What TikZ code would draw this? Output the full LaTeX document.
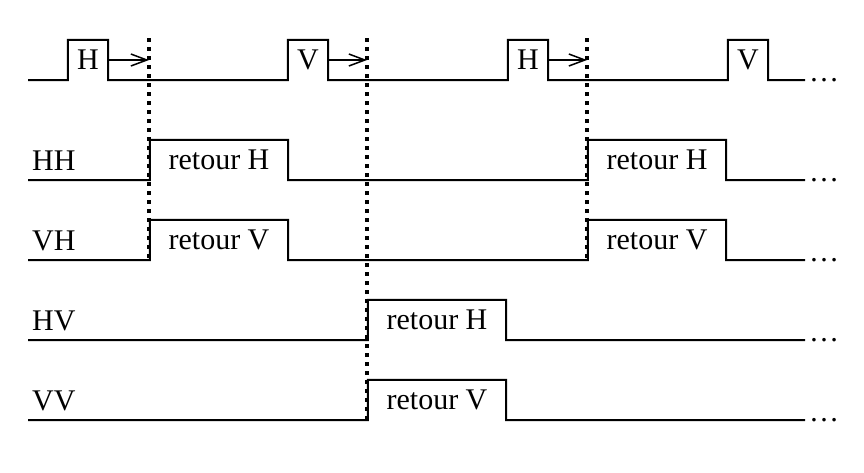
\documentclass[tikz,border=0pt]{standalone}
\usepackage{fontspec}
\setmainfont{Liberation Serif}
\usetikzlibrary{arrows.meta}

\begin{document}
\begin{tikzpicture}[
            x=1pt, y=-1pt,
            >={Straight Barb[length=16pt,width=12pt]},
            every node/.style={font=\fontsize{30}{33}\selectfont, inner sep=0pt},
            pulse/.style={minimum width=40pt, minimum height=40pt},
            retour/.style={minimum width=138pt, minimum height=40pt},
            label/.style={anchor=west},
            etc/.style={anchor=west},
            signal/.style={draw, line width=2pt},
            sync/.style={draw, line width=3.5pt, dash pattern=on 4pt off 5pt}
        ]
        \useasboundingbox (0,0) rectangle (864,472);

        % Start of the lines
        \coordinate (start) at (28,0);

        % Sync lines
        \coordinate (s1top) at (149,38);
        \coordinate (s1bot) at (149,260);
        \coordinate (s2top) at (367,38);
        \coordinate (s2bot) at (367,420);
        \coordinate (s3top) at (587,38);
        \coordinate (s3bot) at (587,260);

        % Nodes
        \node[pulse] (h1) at (88,60) {H};
        \node[pulse] (v1) at (308,60) {V};
        \node[pulse] (h2) at (528,60) {H};
        \node[pulse] (v2) at (748,60) {V};

        \node[label] (hh) at (32,161) {HH};
        \node[label] (vh) at (32,241) {VH};
        \node[label] (hv) at (32,321) {HV};
        \node[label] (vv) at (32,401) {VV};

        \node[retour] (hh1) at (219,160) {retour H};
        \node[retour] (hh2) at (657,160) {retour H};
        \node[retour] (vh1) at (219,240) {retour V};
        \node[retour] (vh2) at (657,240) {retour V};
        \node[retour] (hv1) at (437,320) {retour H};
        \node[retour] (vv1) at (437,400) {retour V};

        \node[etc] (e0) at (809,80) {\ldots};
        \node[etc] (e1) at (809,180) {\ldots};
        \node[etc] (e2) at (809,260) {\ldots};
        \node[etc] (e3) at (809,340) {\ldots};
        \node[etc] (e4) at (809,420) {\ldots};

        % Signals
        \path[signal] (start |- h1.south)
            -- (h1.south west) -- (h1.north west) -- (h1.north east) -- (h1.south east)
            -- (v1.south west) -- (v1.north west) -- (v1.north east) -- (v1.south east)
            -- (h2.south west) -- (h2.north west) -- (h2.north east) -- (h2.south east)
            -- (v2.south west) -- (v2.north west) -- (v2.north east) -- (v2.south east)
            -- ([xshift=-4pt]e0.west);
        \path[signal] (start |- hh1.south)
            -- (hh1.south west) -- (hh1.north west) -- (hh1.north east) -- (hh1.south east)
            -- (hh2.south west) -- (hh2.north west) -- (hh2.north east) -- (hh2.south east)
            -- ([xshift=-4pt]e1.west);
        \path[signal] (start |- vh1.south)
            -- (vh1.south west) -- (vh1.north west) -- (vh1.north east) -- (vh1.south east)
            -- (vh2.south west) -- (vh2.north west) -- (vh2.north east) -- (vh2.south east)
            -- ([xshift=-4pt]e2.west);
        \path[signal] (start |- hv1.south)
            -- (hv1.south west) -- (hv1.north west) -- (hv1.north east) -- (hv1.south east)
            -- ([xshift=-4pt]e3.west);
        \path[signal] (start |- vv1.south)
            -- (vv1.south west) -- (vv1.north west) -- (vv1.north east) -- (vv1.south east)
            -- ([xshift=-4pt]e4.west);

        \path[sync] (s1top) -- (s1bot);
        \path[sync] (s2top) -- (s2bot);
        \path[sync] (s3top) -- (s3bot);

        % Arrows
        \draw[->, line width=1.5pt] (h1.east) -- (h1.east -| s1top);
        \draw[->, line width=1.5pt] (v1.east) -- (v1.east -| s2top);
        \draw[->, line width=1.5pt] (h2.east) -- (h2.east -| s3top);

        \end{tikzpicture}
\end{document}
